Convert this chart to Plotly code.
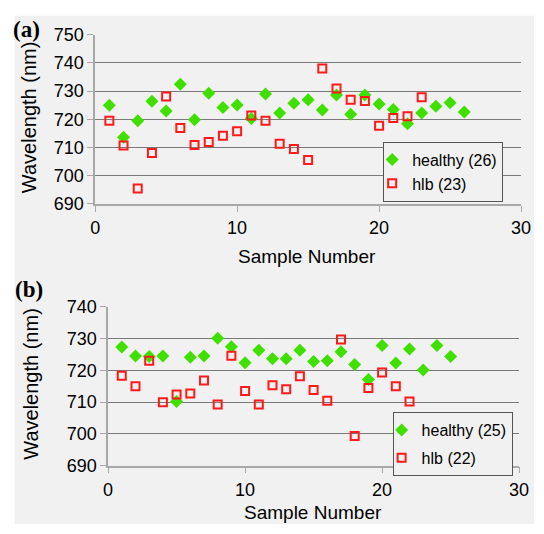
import plotly.graph_objects as go

# ---- data ----
samples_a_healthy = list(range(1, 27))
healthy_a = [725.0, 713.6, 719.5, 726.4, 722.9, 732.4, 719.8, 729.2, 724.2, 725.1,
             720.3, 729.0, 722.2, 725.7, 726.9, 723.3, 728.6, 721.8, 728.6, 725.4,
             723.5, 718.4, 722.2, 724.6, 725.9, 722.6]
samples_a_hlb = list(range(1, 24))
hlb_a = [719.5, 710.7, 695.4, 708.0, 728.1, 716.9, 710.9, 711.9, 714.1, 715.7,
         721.3, 719.5, 711.3, 709.4, 705.5, 738.0, 730.9, 726.9, 726.5, 717.7,
         720.4, 721.1, 727.8]

samples_b_healthy = list(range(1, 26))
healthy_b = [727.3, 724.5, 724.3, 724.5, 710.2, 724.1, 724.5, 730.1, 727.4, 722.4,
             726.3, 723.6, 723.6, 726.3, 722.8, 723.0, 725.8, 721.8, 717.1, 727.8,
             722.3, 726.7, 720.1, 727.8, 724.3]
samples_b_hlb = list(range(1, 23))
hlb_b = [718.3, 715.0, 723.0, 709.9, 712.4, 712.7, 716.8, 709.2, 724.6, 713.5,
         709.2, 715.3, 714.0, 718.1, 713.8, 710.4, 729.7, 699.3, 714.4, 719.3,
         715.0, 710.2]

x_ticks = [0, 10, 20, 30]
y_ticks_a = [690, 700, 710, 720, 730, 740, 750]
y_ticks_b = [690, 700, 710, 720, 730, 740]

# ---- styles ----
W, H = 544, 534
GREEN = "#3fe000"
RED = "#ff1a1a"
BG = "#f1f1f1"
FONT = "Arial, Liberation Sans, sans-serif"
SERIF = "Times New Roman, Liberation Serif, serif"

def px_x(p):
    return p / W

def px_y(p):
    return 1 - p / H

fig = go.Figure()

def add_pair(xh, yh, xl, yl, nh, nl, xa, ya, legend):
    fig.add_trace(go.Scatter(
        x=xh, y=yh, mode="markers", name=f"healthy ({nh})",
        marker=dict(symbol="diamond", size=10, color=GREEN, line=dict(width=0)),
        xaxis=xa, yaxis=ya, legend=legend, legendgroup=legend + "h"))
    fig.add_trace(go.Scatter(
        x=xl, y=yl, mode="markers", name=f"hlb ({nl})",
        marker=dict(symbol="square-open", size=8, color=RED, line=dict(width=2, color=RED)),
        xaxis=xa, yaxis=ya, legend=legend, legendgroup=legend + "l"))

add_pair(samples_a_healthy, healthy_a, samples_a_hlb, hlb_a,
         len(healthy_a), len(hlb_a), "x", "y", "legend")
add_pair(samples_b_healthy, healthy_b, samples_b_hlb, hlb_b,
         len(healthy_b), len(hlb_b), "x2", "y2", "legend2")

xcommon = dict(range=[0, 30], tickvals=x_ticks, ticks="outside", ticklen=6,
               tickcolor="#a8a8a8", showline=True, linecolor="#a8a8a8", linewidth=1.5,
               showgrid=False, zeroline=False, tickfont=dict(family=FONT, size=18, color="#000"),
               ticklabelstandoff=1)
ycommon = dict(ticks="outside", ticklen=6, tickcolor="#a8a8a8", showline=True,
               linecolor="#a8a8a8", linewidth=1.5, showgrid=True, gridcolor="#7a7a7a",
               gridwidth=1.3, zeroline=False,
               tickfont=dict(family=FONT, size=18, color="#000"), ticklabelstandoff=0)

legcommon = dict(bgcolor=BG, bordercolor="#555555", borderwidth=1,
                 font=dict(family=FONT, size=16, color="#000"),
                 xanchor="right", yanchor="top", itemwidth=30, indentation=-12,
                 traceorder="grouped")

def ann(text, x, y, size, family=FONT, angle=0):
    return dict(text=text, x=px_x(x), y=px_y(y), xref="paper", yref="paper",
                xanchor="center", yanchor="middle", showarrow=False, textangle=angle,
                font=dict(family=family, size=size, color="#000"))

fig.update_layout(
    width=W, height=H,
    margin=dict(l=0, r=0, t=0, b=0),
    paper_bgcolor="white", plot_bgcolor="rgba(0,0,0,0)",
    xaxis=dict(domain=[px_x(92.7), px_x(530.7)], anchor="y", **xcommon),
    yaxis=dict(domain=[px_y(201.3), px_y(25.7)], anchor="x", range=[690, 750],
               tickvals=y_ticks_a, **ycommon),
    xaxis2=dict(domain=[px_x(106), px_x(528.7)], anchor="y2", **xcommon),
    yaxis2=dict(domain=[px_y(473.3), px_y(308.3)], anchor="x2", range=[690, 740],
                tickvals=y_ticks_b, **ycommon),
    legend=dict(x=px_x(512.3), y=px_y(136.7), tracegroupgap=0, **legcommon),
    legend2=dict(x=px_x(522), y=px_y(417.7), tracegroupgap=4, **legcommon),
    shapes=[dict(type="rect", xref="paper", yref="paper", x0=px_x(10), x1=1,
                 y0=0, y1=px_y(6), fillcolor=BG, line=dict(width=0), layer="below")],
    annotations=[
        ann("<b>(a)</b>", 22, 20, 23, SERIF),
        ann("<b>(b)</b>", 25, 290, 23, SERIF),
        ann("Wavelength (nm)", 25, 111, 20, angle=-90),
        ann("Wavelength (nm)", 27, 388, 20, angle=-90),
        ann("Sample Number", 311, 256, 19),
        ann("Sample Number", 317, 522, 19),
    ],
)

fig.write_html("out.html",
               post_script="document.body.style.margin='0';document.body.style.overflow='hidden';")
